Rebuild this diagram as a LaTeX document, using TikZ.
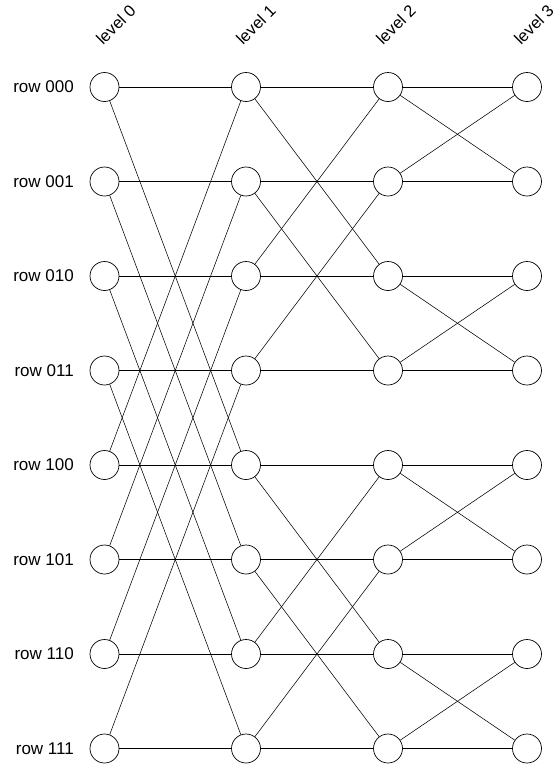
\documentclass[tikz,border=0pt]{standalone}
\usepackage{fontspec}
\setmainfont{Liberation Sans}
\begin{document}
\begin{tikzpicture}[x=1pt,y=-1pt,
  vtx/.style={circle,draw,line width=0.7pt,minimum size=29pt,inner sep=0pt},
  edge/.style={line width=0.55pt},
  rowlab/.style={anchor=east,inner sep=0pt,font=\fontsize{17}{20}\selectfont},
  levlab/.style={anchor=base west,rotate=45,inner sep=0pt,font=\fontsize{16.5}{20}\selectfont}]
\useasboundingbox (0,0) rectangle (559,766);
\foreach \l/\x/\lx in {0/104.5/103,1/246/243,2/388/383,3/527/521}{
  \node[levlab] (L\l) at (\lx,46) {level \l};
  \foreach \r in {0,...,7}{
    \node[vtx] (n\l\r) at (\x,87+94.5*\r) {};
  }
}
\foreach \r/\b in {0/000,1/001,2/010,3/011,4/100,5/101,6/110,7/111}{
  \node[rowlab] (R\r) at (74,87+94.5*\r) {row \b};
}
% straight edges
\foreach \l/\m in {0/1,1/2,2/3}{
  \foreach \r in {0,...,7}{
    \draw[edge] (n\l\r) -- (n\m\r);
  }
}
% cross edges
\foreach \a/\b in {0/4,1/5,2/6,3/7}{
  \draw[edge] (n0\a) -- (n1\b);
  \draw[edge] (n0\b) -- (n1\a);
}
\foreach \a/\b in {0/2,1/3,4/6,5/7}{
  \draw[edge] (n1\a) -- (n2\b);
  \draw[edge] (n1\b) -- (n2\a);
}
\foreach \a/\b in {0/1,2/3,4/5,6/7}{
  \draw[edge] (n2\a) -- (n3\b);
  \draw[edge] (n2\b) -- (n3\a);
}
\end{tikzpicture}
\end{document}
